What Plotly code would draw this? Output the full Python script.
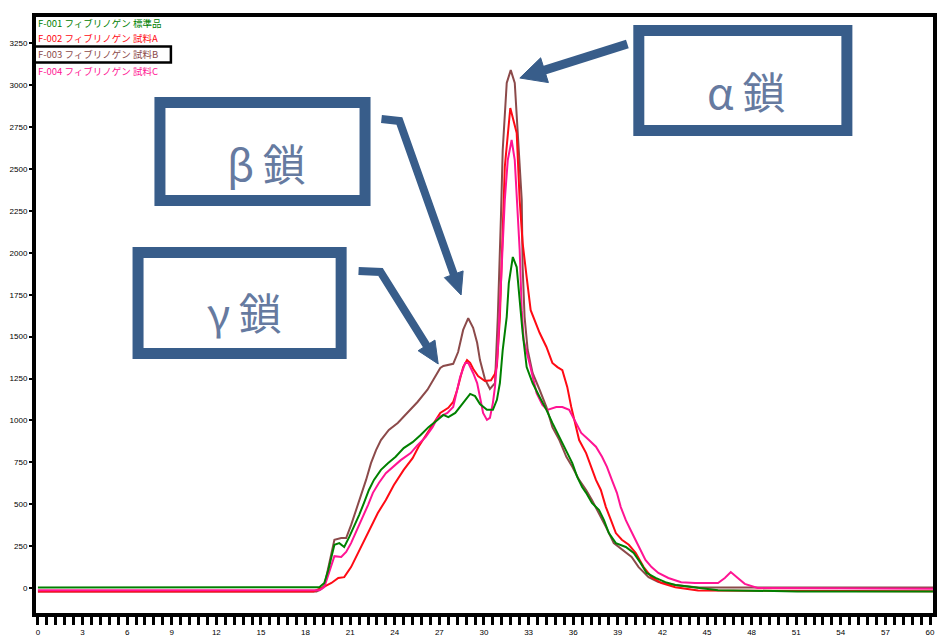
import plotly.graph_objects as go

# ---- elution profiles (time in min, absorbance) ----
t_green = [0, 18.4, 18.93, 19.26, 19.53, 19.74, 19.94, 20.27, 20.6, 20.94, 21.27, 21.6, 21.93, 22.26, 22.6,
           23.07, 23.54, 24.06, 24.6, 25.2, 25.74, 26.27, 26.87, 27.27, 27.6, 28.07, 28.6, 29.07, 29.4, 29.73,
           30.2, 30.6, 30.87, 31.07, 31.26, 31.53, 31.67, 31.94, 32.2, 32.4, 32.6, 32.87, 33.27, 33.74, 34.2,
           34.6, 35.07, 35.54, 35.94, 36.27, 36.6, 36.87, 37.26, 37.74, 38.07, 38.4, 38.87, 39.54, 40.07,
           40.53, 40.94, 41.54, 42.2, 42.87, 43.94, 45.74, 51.06, 60.3]
a_green = [3, 3, 5, 30, 108, 185, 258, 268, 245, 305, 365, 435, 508, 585, 645,
           705, 745, 783, 835, 870, 913, 960, 1003, 1033, 1020, 1045, 1105, 1158, 1145, 1098,
           1063, 1063, 1123, 1223, 1420, 1618, 1820, 1975, 1915, 1718, 1523, 1318, 1223, 1140, 1063,
           985, 900, 823, 745, 663, 603, 568, 508, 465, 405, 328, 268, 245, 210,
           150, 90, 60, 35, 18, 5, -13, -20, -20]

t_red = [0, 18.54, 19.07, 19.74, 20.2, 20.6, 21.06, 21.54, 21.93, 22.4, 22.86, 23.4, 23.94, 24.6, 25.2,
         25.6, 26.2, 26.6, 27.06, 27.6, 27.93, 28.2, 28.4, 28.6, 28.86, 29.07, 29.27, 29.6, 30.06, 30.47,
         30.74, 30.87, 31.07, 31.26, 31.4, 31.77, 31.93, 32.2, 32.4, 32.6, 32.87, 33.14, 33.74, 34.2, 34.6,
         34.94, 35.27, 35.6, 35.87, 36.06, 36.4, 36.87, 37.2, 37.53, 37.86, 38.2, 38.54, 38.87, 39.27,
         39.74, 40.2, 40.74, 41.27, 41.94, 42.87, 44.4, 60.3]
a_red = [-20, -20, 0, 30, 60, 65, 125, 210, 288, 365, 448, 525, 615, 705, 775,
         843, 925, 985, 1045, 1075, 1110, 1183, 1260, 1318, 1360, 1343, 1308, 1265, 1235, 1240,
         1278, 1325, 1618, 2213, 2513, 2864, 2805, 2715, 2315, 2058, 1855, 1658, 1523, 1438, 1343,
         1318, 1300, 1200, 1080, 1003, 883, 805, 723, 645, 585, 483, 405, 328, 288,
         258, 210, 125, 65, 30, 5, -15, -20]

t_brown = [0, 18.74, 19.07, 19.26, 19.6, 19.94, 20.4, 20.73, 21.06, 21.4, 21.74, 22.07, 22.4, 22.74, 23.07,
           23.6, 24.2, 24.87, 25.53, 26.2, 26.6, 27.06, 27.27, 27.93, 28.26, 28.6, 28.94, 29.27, 29.54,
           29.73, 30.06, 30.4, 30.74, 30.93, 31.14, 31.26, 31.53, 31.8, 32.07, 32.27, 32.54, 32.6, 32.73,
           32.94, 33.27, 33.74, 34.2, 34.6, 35.07, 35.54, 35.94, 36.4, 36.87, 37.26, 37.74, 38.2, 38.73,
           39.27, 39.93, 40.4, 41.07, 41.73, 42.87, 44.4, 60.3]
a_brown = [-20, -20, -5, 13, 150, 288, 298, 298, 375, 465, 568, 645, 745, 823, 883,
           943, 985, 1045, 1110, 1183, 1240, 1313, 1325, 1338, 1408, 1540, 1610, 1553, 1463,
           1360, 1248, 1188, 1223, 1618, 2213, 2613, 3013, 3090, 3013, 2715, 2315, 1915, 1618,
           1420, 1283, 1183, 1080, 960, 883, 783, 723, 645, 585, 525, 448, 365, 268,
           228, 185, 125, 65, 35, 18, 3, 3]

t_pink = [0, 18.93, 19.26, 19.6, 19.94, 20.4, 20.73, 21.06, 21.54, 21.87, 22.2, 22.53, 22.94, 23.4, 23.87,
          24.4, 25.07, 25.53, 26.07, 26.54, 26.87, 27.54, 27.93, 28.2, 28.4, 28.74, 28.94, 29.27, 29.54,
          29.73, 29.94, 30.2, 30.4, 30.6, 30.74, 30.93, 31.2, 31.4, 31.6, 31.86, 32.07, 32.2, 32.4, 32.54,
          32.67, 33.06, 33.54, 33.93, 34.26, 34.86, 35.27, 35.73, 36.06, 36.54, 37.06, 37.53, 37.94,
          38.27, 38.6, 38.94, 39.2, 39.54, 39.87, 40.2, 40.53, 40.86, 41.27, 41.73, 42.4, 43.26, 44.2,
          45.74, 46.2, 46.6, 47.07, 47.54, 48.4, 60.3]
a_pink = [-13, -13, 5, 95, 190, 185, 215, 268, 365, 423, 495, 568, 628, 685, 723,
          763, 805, 853, 900, 960, 1015, 1045, 1080, 1183, 1260, 1343, 1343, 1283, 1223,
          1140, 1045, 1003, 1015, 1105, 1200, 1420, 1915, 2315, 2553, 2673, 2553, 2315, 2018, 1658,
          1480, 1343, 1163, 1093, 1063, 1080, 1080, 1063, 1003, 925, 883, 843, 783,
          723, 645, 568, 483, 405, 345, 288, 228, 168, 125, 90, 60, 35, 30,
          30, 60, 95, 60, 25, 0, -5]

series_names = ["F-001 フィブリノゲン 標準品", "F-002 フィブリノゲン 試料A",
                "F-003 フィブリノゲン 試料B", "F-004 フィブリノゲン 試料C"]
series_colors = ["#008000", "#ff0a14", "#8c4a4a", "#ff1493"]

x_ticks = list(range(0, 61, 3))
y_ticks = list(range(0, 3251, 250))

chain_labels = ["α\u2009鎖", "β\u2009鎖", "γ\u2009鎖"]

# ---- page geometry (pixels) ----
W, H = 941, 641
L, R, T, B = 36, 937, 17, 613
BOX_BLUE = "#385d8a"


def pp(x, y):
    """pixel position -> paper coordinates"""
    return (x - L) / (R - L), (B - y) / (B - T)


def path_of(points, close=False):
    parts = []
    for i, (x, y) in enumerate(points):
        px_, py_ = pp(x, y)
        parts.append(("M" if i == 0 else "L") + f"{px_:.5f},{py_:.5f}")
    return " ".join(parts) + (" Z" if close else "")


def arrow(points, head_len, head_w, shaft_w):
    (x1, y1), (x2, y2) = points[-2], points[-1]
    dx, dy = x2 - x1, y2 - y1
    n = (dx * dx + dy * dy) ** 0.5
    ux, uy = dx / n, dy / n
    bx, by = x2 - ux * head_len, y2 - uy * head_len
    nx, ny = -uy, ux
    shaft = dict(type="path", xref="paper", yref="paper",
                 path=path_of(points[:-1] + [(bx + ux * 2, by + uy * 2)]),
                 line=dict(color=BOX_BLUE, width=shaft_w))
    head = dict(type="path", xref="paper", yref="paper",
                path=path_of([(x2, y2), (bx + nx * head_w / 2, by + ny * head_w / 2),
                              (bx - nx * head_w / 2, by - ny * head_w / 2)], close=True),
                fillcolor=BOX_BLUE, line=dict(color=BOX_BLUE, width=1))
    return [shaft, head]


def box(x0, y0, x1, y1, lw=11):
    h = lw / 2
    a = pp(x0 + h, y1 - h)
    b = pp(x1 - h, y0 + h)
    return dict(type="rect", xref="paper", yref="paper", x0=a[0], y0=a[1], x1=b[0], y1=b[1],
                fillcolor="white", line=dict(color=BOX_BLUE, width=lw))


fig = go.Figure()
traces = [(t_green, a_green), (t_red, a_red), (t_brown, a_brown), (t_pink, a_pink)]
for idx in [2, 1, 3, 0]:
    t, a = traces[idx]
    fig.add_trace(go.Scatter(x=t, y=a, mode="lines", name=series_names[idx],
                             line=dict(color=series_colors[idx], width=2), showlegend=False))

shapes = []
shapes.append(box(636, 25, 856, 136))
shapes.append(box(155, 97, 372, 206))
shapes.append(box(133, 247, 348, 359))
shapes += arrow([(630, 44), (522, 78)], 26, 26, 9)
shapes += arrow([(383, 119), (401, 121), (463, 295)], 22, 20, 8)
shapes += arrow([(360, 271), (382, 272), (440, 364)], 22, 20, 8)
# selection frame around the third legend entry
sx0, sy0 = pp(34.5, 62.5)
sx1, sy1 = pp(171.5, 46.5)
shapes.append(dict(type="rect", xref="paper", yref="paper", x0=sx0, y0=sy0, x1=sx1, y1=sy1,
                   line=dict(color="black", width=2.5)))

annotations = []
for text, (cx, cy) in zip(chain_labels, [(749, 90), (268, 162), (245, 311)]):
    ax_, ay_ = pp(cx, cy)
    annotations.append(dict(xref="paper", yref="paper", x=ax_, y=ay_, text=text, showarrow=False,
                            xanchor="center", yanchor="middle",
                            font=dict(family="Noto Sans CJK JP", size=43, color="#667aa0")))
for name, col, cy in zip(series_names, series_colors, [23, 38, 54, 71]):
    ax_, ay_ = pp(36, cy)
    annotations.append(dict(xref="paper", yref="paper", x=ax_, y=ay_, text=name, showarrow=False,
                            xanchor="left", yanchor="middle",
                            font=dict(family="Noto Sans CJK JP", size=9.5, color=col)))

fig.update_layout(
    width=W, height=H,
    margin=dict(l=L, r=W - R, t=T, b=H - B, pad=0),
    paper_bgcolor="white", plot_bgcolor="white",
    shapes=shapes, annotations=annotations,
    xaxis=dict(range=[-0.13, 60.2], tickmode="array", tickvals=x_ticks,
               ticktext=[str(v) for v in x_ticks], showgrid=False, zeroline=False,
               showline=True, linecolor="black", linewidth=4, mirror=True,
               ticks="outside", ticklen=8, tickwidth=2.5, tickcolor="black",
               minor=dict(dtick=0.6, ticks="outside", ticklen=8, tickwidth=2.5, tickcolor="black"),
               tickfont=dict(family="Liberation Sans", size=8, color="black")),
    yaxis=dict(range=[-149, 3407], tickmode="array", tickvals=y_ticks,
               ticktext=[str(v) for v in y_ticks], showgrid=False, zeroline=False,
               showline=True, linecolor="black", linewidth=4, mirror=True,
               ticks="outside", ticklen=3, tickwidth=2, tickcolor="black",
               tickfont=dict(family="Liberation Sans", size=8, color="black")),
)

fig.write_html("out.html")
